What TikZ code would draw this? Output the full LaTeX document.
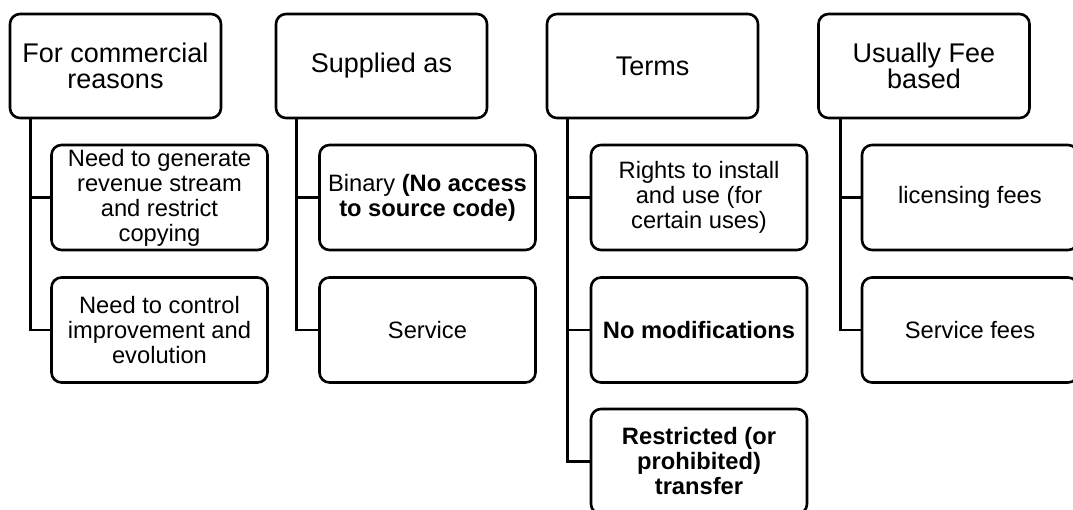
\documentclass[tikz,border=0pt]{standalone}
\usepackage{fontspec}
\setmainfont{Liberation Sans}
\begin{document}
\begin{tikzpicture}[x=1pt,y=-1pt,
  hdr/.style={draw=black, line width=2.6pt, rounded corners=10pt, fill=white,
    minimum width=211pt, minimum height=104pt, inner sep=0pt, align=center,
    font=\fontsize{27}{26.6}\selectfont},
  kid/.style={draw=black, line width=2.6pt, rounded corners=10pt, fill=white,
    minimum width=216pt, minimum height=105pt, inner sep=0pt, align=center,
    font=\fontsize{23.7}{25}\selectfont},
  conn/.style={draw=black, line width=2.6pt}]
\clip (0,0) rectangle (1073,509);
\fill[white] (0,0) rectangle (1073,509);

% headers
\node[hdr] (h1) at (115.5,66) {For commercial\\reasons};
\node[hdr] (h2) at (381.5,66) {Supplied as};
\node[hdr] (h3) at (652.5,66) {Terms};
\node[hdr] (h4) at (924,66) {Usually Fee\\based};

% column 1
\node[kid] (c11) at (159.5,197.5) {Need to generate\\revenue stream\\and restrict\\copying};
\node[kid] (c12) at (159.5,330) {Need to control\\improvement and\\evolution};

% column 2
\node[kid] (c21) at (427.5,197.5) {Binary \textbf{(No access}\\\textbf{to source code)}};
\node[kid] (c22) at (427.5,330) {Service};

% column 3
\node[kid] (c31) at (699,197.5) {Rights to install\\and use (for\\certain uses)};
\node[kid] (c32) at (699,330) {\textbf{No modifications}};
\node[kid] (c33) at (699,461.5) {\textbf{Restricted (or}\\\textbf{prohibited)}\\\textbf{transfer}};

% column 4
\node[kid] (c41) at (970,197.5) {licensing fees};
\node[kid] (c42) at (970,330) {Service fees};

% connectors
\coordinate (v1) at ([xshift=21.5pt]h1.south west);
\coordinate (v2) at ([xshift=21.5pt]h2.south west);
\coordinate (v3) at ([xshift=21.5pt]h3.south west);
\coordinate (v4) at ([xshift=23.5pt]h4.south west);

\draw[conn] (v1) |- (c11.west);
\draw[conn] (v1) |- (c12.west);
\draw[conn] (v2) |- (c21.west);
\draw[conn] (v2) |- (c22.west);
\draw[conn] (v3) |- (c31.west);
\draw[conn] (v3) |- (c32.west);
\draw[conn] (v3) |- (c33.west);
\draw[conn] (v4) |- (c41.west);
\draw[conn] (v4) |- (c42.west);
\end{tikzpicture}
\end{document}
